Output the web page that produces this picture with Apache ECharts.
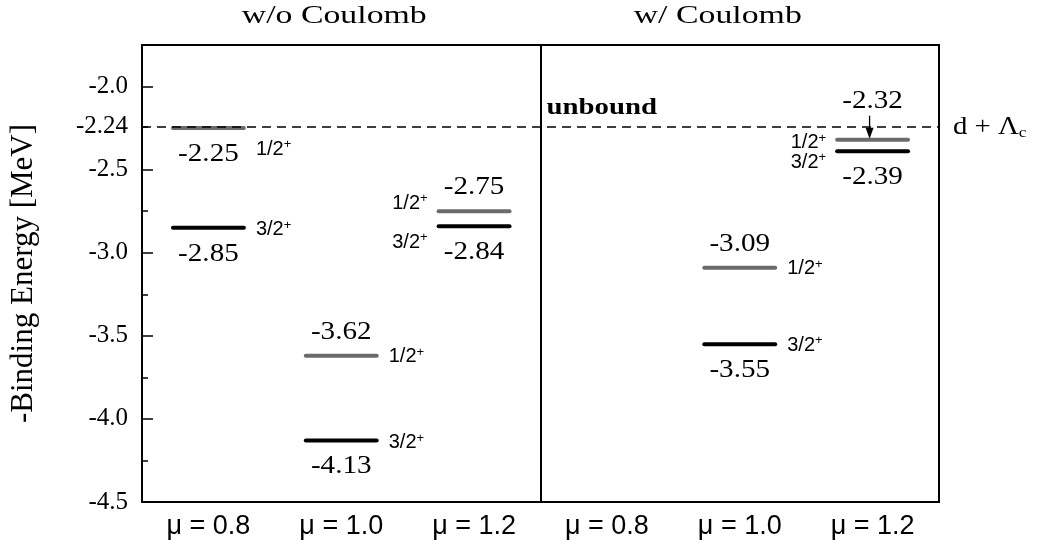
<!DOCTYPE html>
<html><head><meta charset="utf-8">
<script src="https://cdn.jsdelivr.net/npm/echarts@6/dist/echarts.min.js"></script>
<style>html,body{margin:0;padding:0;background:#fff}#c{width:1037px;height:546px}</style>
</head><body><div id="c"></div>
<script>
// ---- data ----
const categories = ['μ = 0.8', 'μ = 1.0', 'μ = 1.2', 'μ = 0.8', 'μ = 1.0', 'μ = 1.2'];
const panelTitles = ['w/o Coulomb', 'w/ Coulomb'];
const spinLabels = ['1/2', '3/2'];            // shown with superscript "+"
const levelsHalf = [-2.25, -3.62, -2.75, null, -3.09, -2.32];      // 1/2+
const levelsThreeHalf = [-2.85, -4.13, -2.84, null, -3.55, -2.39]; // 3/2+
const threshold = -2.24;
const thresholdText = 'd + Λ';
const thresholdSub = 'c';
const unboundText = 'unbound';
const yTickValues = [-4.5, -4.0, -3.5, -3.0, -2.5, -2.24, -2.0];
const yMinorTickValues = [-4.25, -3.75, -3.25, -2.75, -2.24];
const yRange = [-4.5, -1.75];
const yName = '-Binding Energy [MeV]';

// ---- label placement (layout only) ----
const placement = [
  [{num: 'below', side: 'right', dy: 21}, {num: 'below', side: 'right', dy: 2}],
  [{num: 'above', side: 'right', dy: 1}, {num: 'below', side: 'right', dy: 2}],
  [{num: 'above', side: 'left', dy: -8}, {num: 'below', side: 'left', dy: 16}],
  [null, null],
  [{num: 'above', side: 'right', dy: 1}, {num: 'below', side: 'right', dy: 1}],
  [{num: 'above', side: 'left', dy: 3, arrow: true}, {num: 'below', side: 'left', dy: 11}]
];
const SERIF = '"Liberation Serif", "Times New Roman", serif';
const SANS = '"Liberation Sans", Arial, sans-serif';

function levelSeries(values, s, color) {
  return {
    type: 'custom',
    coordinateSystem: 'cartesian2d',
    xAxisIndex: 0, yAxisIndex: 0,
    clip: false,
    silent: true,
    encode: {x: 0, y: 1},
    data: values.map((v, i) => [i, v]).filter(d => d[1] !== null),
    renderItem(params, api) {
      const i = api.value(0), v = api.value(1);
      const p = api.coord([i + 0.5, v]);
      const hw = api.size([1, 0])[0] * 0.267;
      const pl = placement[i][s];
      const ch = [];
      ch.push({type: 'line', shape: {x1: p[0] - hw, y1: p[1], x2: p[0] + hw, y2: p[1]},
        style: {stroke: color, lineWidth: 4, lineCap: 'round'}});
      const numDy = pl.num === 'below' ? 26 : (pl.arrow ? -39 : -24);
      ch.push({type: 'text', x: p[0], y: p[1] + numDy, scaleX: 1.12,
        style: {text: v.toFixed(2), fontFamily: SERIF, fontSize: 26, fill: '#000',
          align: 'center', verticalAlign: 'middle'}});
      const sx = pl.side === 'right' ? p[0] + hw + 12 : p[0] - hw - 11;
      ch.push({type: 'text', x: sx, y: p[1] + pl.dy,
        style: {text: '{a|' + spinLabels[s] + '}{b|+}',
          rich: {a: {fontFamily: SANS, fontSize: 20, fill: '#000', lineHeight: 22},
                 b: {fontFamily: SANS, fontSize: 13, fill: '#000', verticalAlign: 'top', lineHeight: 13}},
          align: pl.side === 'right' ? 'left' : 'right', verticalAlign: 'middle'}});
      if (pl.arrow) {
        const ax = p[0] - 3;
        ch.push({type: 'line', shape: {x1: ax, y1: p[1] - 24, x2: ax, y2: p[1] - 10},
          style: {stroke: '#000', lineWidth: 1.3}});
        ch.push({type: 'polygon', shape: {points: [[ax - 4, p[1] - 12], [ax + 4, p[1] - 12], [ax, p[1] - 1]]},
          style: {fill: '#000'}});
      }
      return {type: 'group', children: ch};
    }
  };
}

const titleDx = [-7, -22];
const annotationSeries = {
  type: 'custom',
  coordinateSystem: 'cartesian2d',
  xAxisIndex: 0, yAxisIndex: 0,
  clip: false,
  silent: true,
  encode: {x: 0, y: 1},
  data: [[3, threshold]],
  renderItem(params, api) {
    const y = api.value(1);
    const ch = [];
    panelTitles.forEach((t, k) => {
      const p = api.coord([k * 3 + 1.5, yRange[1]]);
      ch.push({type: 'text', x: p[0] + titleDx[k], y: p[1] - 29, scaleX: 1.3,
        style: {text: t, fontFamily: SERIF, fontSize: 26, fill: '#000', align: 'center', verticalAlign: 'middle'}});
    });
    const d = api.coord([3, y]);
    ch.push({type: 'text', x: d[0] + 6, y: d[1] - 19, scaleX: 1.2,
      style: {text: unboundText, fontFamily: SERIF, fontWeight: 'bold', fontSize: 24, fill: '#000',
        align: 'left', verticalAlign: 'middle'}});
    const e = api.coord([6, y]);
    ch.push({type: 'text', x: e[0] + 14, y: e[1] + 1, scaleX: 1.15,
      style: {text: '{a|' + thresholdText + '}{b|' + thresholdSub + '}',
        rich: {a: {fontFamily: SERIF, fontSize: 25, fill: '#000', lineHeight: 26},
               b: {fontFamily: SERIF, fontSize: 15, fill: '#000', verticalAlign: 'bottom', lineHeight: 15}},
        align: 'left', verticalAlign: 'middle'}});
    return {type: 'group', children: ch};
  },
  markLine: {
    silent: true, symbol: 'none', animation: false,
    label: {show: false},
    data: [
      {yAxis: threshold, lineStyle: {type: [9, 6], width: 1.5, color: '#000'}},
      {xAxis: 3, lineStyle: {type: 'solid', width: 2, color: '#000'}}
    ]
  }
};

const chart = echarts.init(document.getElementById('c'));
chart.setOption({
  animation: false,
  backgroundColor: '#fff',
  grid: {left: 142, right: 98, top: 45, bottom: 44, show: true, borderColor: '#000', borderWidth: 2, backgroundColor: 'transparent'},
  xAxis: {
    type: 'value', min: 0, max: categories.length,
    axisLine: {lineStyle: {color: '#000', width: 2}},
    axisTick: {show: false},
    splitLine: {show: false},
    axisLabel: {
      customValues: categories.map((c, i) => i + 0.5),
      formatter: v => categories[Math.round(v - 0.5)],
      color: '#000', fontFamily: SANS, fontSize: 27, margin: 11
    }
  },
  yAxis: [{
    type: 'value', min: yRange[0], max: yRange[1],
    name: yName, nameLocation: 'middle', nameGap: 103,
    nameTextStyle: {fontFamily: SERIF, fontSize: 31, color: '#000'},
    axisLine: {show: true, lineStyle: {color: '#000', width: 2}},
    axisTick: {show: true, inside: true, length: 11, customValues: yTickValues.filter(v => v !== threshold),
      lineStyle: {color: '#000', width: 1.5}},
    splitLine: {show: false},
    axisLabel: {
      customValues: yTickValues,
      formatter: v => (Math.abs(v - threshold) < 1e-9 ? v.toFixed(2) : v.toFixed(1)),
      color: '#000', fontFamily: SERIF, fontSize: 25, margin: 14
    }
  }, {
    type: 'value', min: yRange[0], max: yRange[1], position: 'left',
    axisLine: {show: false},
    axisLabel: {show: false},
    splitLine: {show: false},
    axisTick: {show: true, inside: true, length: 6, customValues: yMinorTickValues,
      lineStyle: {color: '#000', width: 1.5}}
  }],
  series: [
    annotationSeries,
    levelSeries(levelsHalf, 0, '#6b6b6b'),
    levelSeries(levelsThreeHalf, 1, '#000')
  ]
});
</script>
</body></html>
